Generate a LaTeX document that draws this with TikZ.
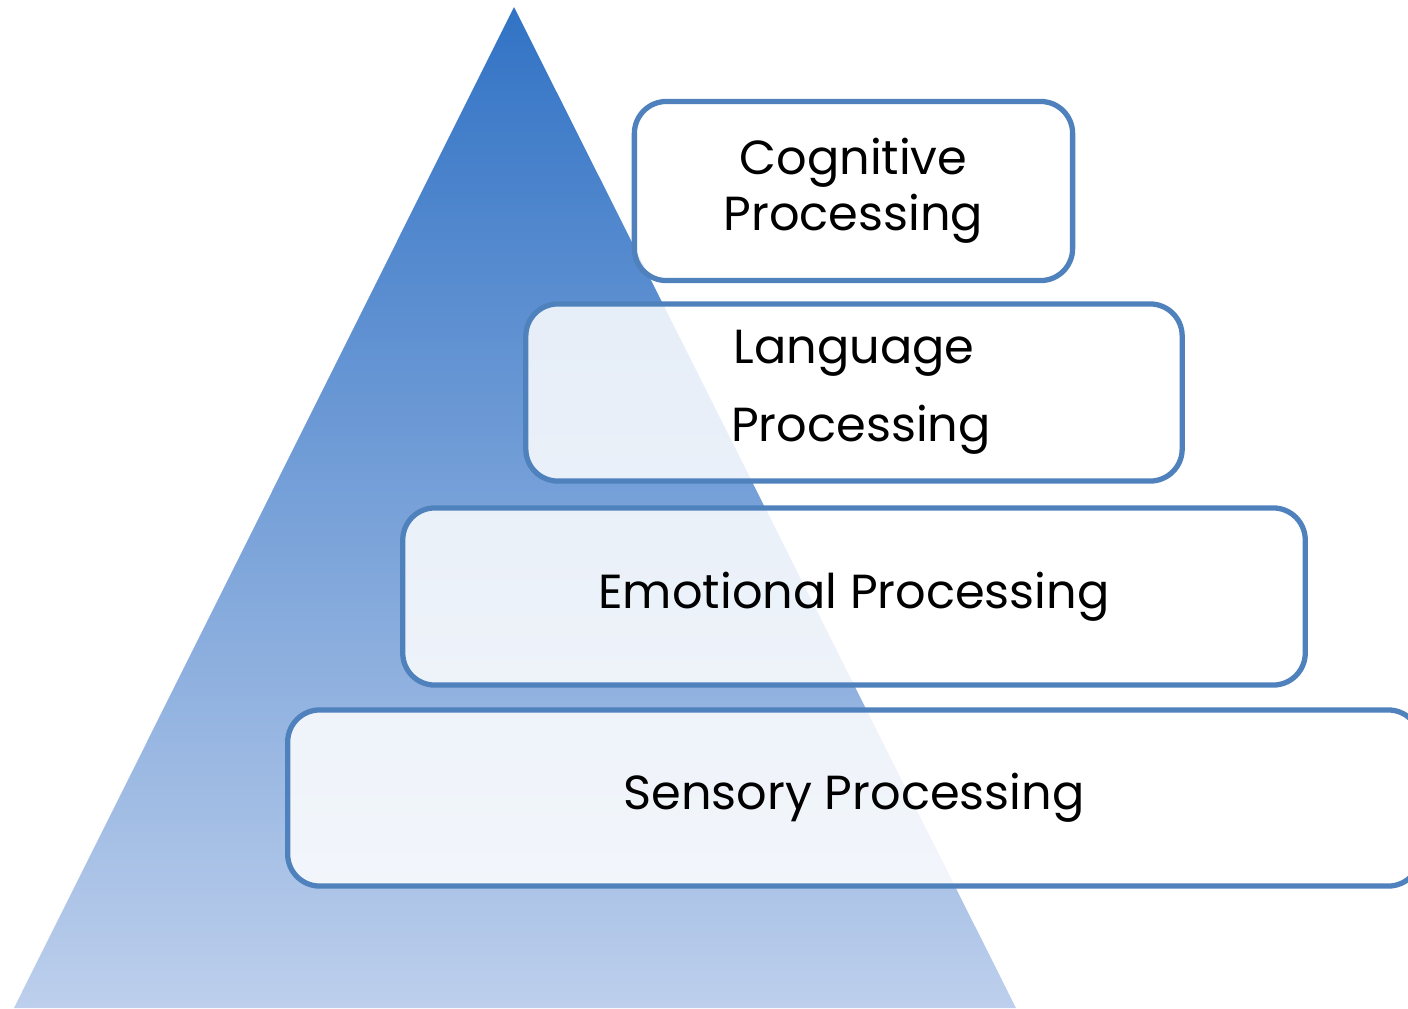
\documentclass[tikz,border=0pt]{standalone}
\usepackage{fontspec}
\setmainfont{Poppins}
\definecolor{pyrtop}{HTML}{3273C5}
\definecolor{pyrbot}{HTML}{BDCFEC}
\definecolor{layerline}{HTML}{4F81BD}
\begin{document}
\begin{tikzpicture}[x=0.01cm,y=-0.01cm,
	layerbox/.style={draw=layerline,line width=1.5pt,rounded corners=0.32cm,fill=white,fill opacity=0.85,text opacity=1,inner sep=0pt,align=center,font=\fontsize{13.6pt}{16pt}\selectfont}]
	\useasboundingbox (0,0) rectangle (1408,1008);
	\shade[top color=pyrtop,bottom color=pyrbot] (514,7) -- (1016,1008) -- (14,1008) -- cycle;
	\node[layerbox,minimum width=4.38cm,minimum height=1.79cm] (cognitive) at (853.5,191) {\raisebox{-0.06cm}{Cognitive}\\\raisebox{-0.06cm}{Processing}};
	\node[layerbox,minimum width=6.56cm,minimum height=1.77cm] (language) at (854,392.5) {\raisebox{-0.07cm}{Language}\\[0.45em]\hspace*{0.14cm}\raisebox{-0.07cm}{Processing}};
	\node[layerbox,minimum width=9.02cm,minimum height=1.77cm] (emotional) at (854,596.5) {\raisebox{-0.04cm}{Emotional Processing}};
	\node[layerbox,minimum width=11.32cm,minimum height=1.76cm] (sensory) at (854,798) {\raisebox{-0.04cm}{Sensory Processing}};
\end{tikzpicture}
\end{document}
